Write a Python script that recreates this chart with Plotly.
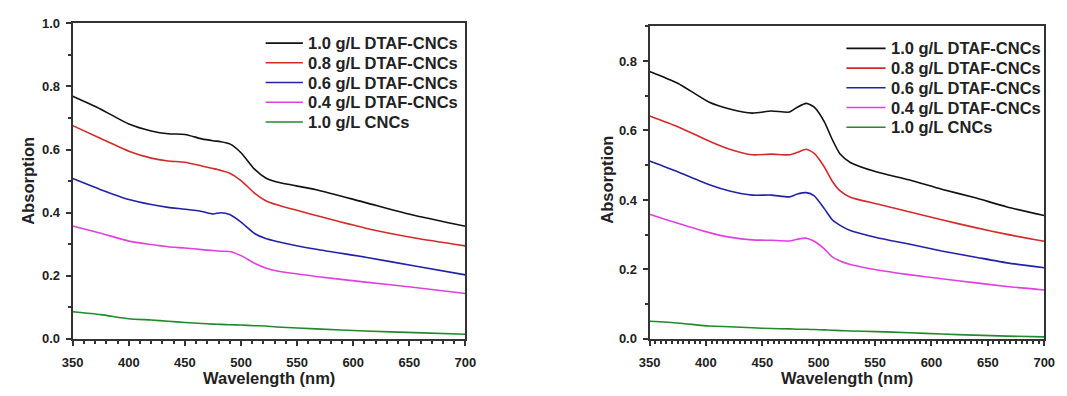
import plotly.graph_objects as go

# ---------------- data ----------------
wl_left = [350, 375, 400, 420, 435, 450, 465, 475, 482, 490, 500, 512, 522, 532, 567, 611, 655, 700]
left_10 = [0.769, 0.728, 0.681, 0.659, 0.650, 0.648, 0.634, 0.628, 0.625, 0.618, 0.590, 0.538, 0.510, 0.497, 0.473, 0.432, 0.391, 0.357]
left_08 = [0.676, 0.635, 0.595, 0.573, 0.564, 0.560, 0.548, 0.540, 0.534, 0.525, 0.502, 0.462, 0.438, 0.425, 0.391, 0.351, 0.320, 0.295]
left_06 = [0.508, 0.473, 0.442, 0.426, 0.417, 0.411, 0.404, 0.396, 0.400, 0.394, 0.370, 0.334, 0.318, 0.309, 0.284, 0.259, 0.231, 0.203]
left_04 = [0.358, 0.335, 0.310, 0.299, 0.292, 0.288, 0.283, 0.280, 0.278, 0.277, 0.264, 0.240, 0.225, 0.215, 0.198, 0.180, 0.163, 0.144]
left_cnc = [0.086, 0.077, 0.064, 0.060, 0.056, 0.052, 0.049, 0.047, 0.046, 0.045, 0.044, 0.042, 0.041, 0.038, 0.032, 0.025, 0.020, 0.015]

wl_right = [350, 375, 403, 421, 441, 458, 474, 481, 489, 496, 505, 512, 519, 528, 551, 580, 609, 638, 667, 700]
right_10 = [0.770, 0.736, 0.681, 0.662, 0.650, 0.656, 0.653, 0.667, 0.678, 0.667, 0.625, 0.574, 0.532, 0.508, 0.481, 0.458, 0.431, 0.407, 0.380, 0.355]
right_08 = [0.642, 0.611, 0.569, 0.546, 0.530, 0.532, 0.530, 0.537, 0.546, 0.534, 0.495, 0.454, 0.426, 0.408, 0.389, 0.366, 0.343, 0.321, 0.301, 0.281]
right_06 = [0.512, 0.481, 0.444, 0.426, 0.414, 0.414, 0.409, 0.417, 0.421, 0.412, 0.375, 0.343, 0.327, 0.312, 0.292, 0.273, 0.253, 0.236, 0.219, 0.205]
right_04 = [0.359, 0.333, 0.306, 0.293, 0.285, 0.284, 0.282, 0.287, 0.290, 0.281, 0.259, 0.236, 0.224, 0.214, 0.199, 0.185, 0.173, 0.162, 0.151, 0.141]
right_cnc = [0.051, 0.046, 0.037, 0.035, 0.032, 0.030, 0.029, 0.028, 0.028, 0.027, 0.026, 0.025, 0.024, 0.023, 0.021, 0.018, 0.014, 0.011, 0.008, 0.006]

series_names = ["1.0 g/L DTAF-CNCs", "0.8 g/L DTAF-CNCs", "0.6 g/L DTAF-CNCs",
                "0.4 g/L DTAF-CNCs", "1.0 g/L CNCs"]
colors = ["#111111", "#d42a2a", "#2222a8", "#e040e0", "#228a2a"]

x_ticks = [350, 400, 450, 500, 550, 600, 650, 700]
x_title = "Wavelength (nm)"
y_title = "Absorption"

W, H = 1067, 396
FONT = "Arial, Liberation Sans, Helvetica, sans-serif"

fig = go.Figure()

left_sets = [left_10, left_08, left_06, left_04, left_cnc]
right_sets = [right_10, right_08, right_06, right_04, right_cnc]

for name, c, ys in zip(series_names, colors, left_sets):
    fig.add_trace(go.Scatter(x=wl_left, y=ys, name=name, mode="lines", showlegend=False,
                             line=dict(color=c, width=1.6, shape="spline", smoothing=0.6),
                             xaxis="x", yaxis="y"))
for name, c, ys in zip(series_names, colors, right_sets):
    fig.add_trace(go.Scatter(x=wl_right, y=ys, name=name, mode="lines", showlegend=False,
                             line=dict(color=c, width=1.6, shape="spline", smoothing=0.6),
                             xaxis="x2", yaxis="y2"))

def px_x(p):
    return p / W

def px_y(p):
    return 1 - p / H

axis_common = dict(showline=True, linecolor="#333333", linewidth=2, mirror=True,
                   showgrid=False, zeroline=False, ticks="outside", ticklen=5,
                   tickwidth=1.5, tickcolor="#333333",
                   tickfont=dict(family=FONT, size=13, color="#222222", weight="bold"))

fig.update_layout(
    width=W, height=H, margin=dict(l=0, r=0, t=0, b=0),
    paper_bgcolor="white", plot_bgcolor="white",
    font=dict(family=FONT), showlegend=False,
    xaxis=dict(domain=[px_x(63), px_x(464)], range=[350, 700], tickvals=x_ticks,
               anchor="y", ticklabelstandoff=5,
               minor=dict(dtick=10, ticks="outside", ticklen=3, tickcolor="#333333"),
               **axis_common),
    yaxis=dict(domain=[px_y(345), px_y(17)], range=[0, 1.0], dtick=0.2, tickformat=".1f",
               anchor="x", ticklabelstandoff=3,
               minor=dict(dtick=0.1, ticks="outside", ticklen=3, tickcolor="#333333"),
               **axis_common),
    xaxis2=dict(domain=[px_x(652), px_x(1055)], range=[350, 700], tickvals=x_ticks,
                anchor="y2", ticklabelstandoff=5,
                minor=dict(dtick=5, ticks="outside", ticklen=3, tickcolor="#333333"),
                **axis_common),
    yaxis2=dict(domain=[px_y(345), px_y(20)], range=[0, 0.9], dtick=0.2, tickformat=".1f",
                anchor="x2", ticklabelstandoff=3,
                minor=dict(dtick=0.1, ticks="outside", ticklen=3, tickcolor="#333333"),
                **axis_common),
)

# ---------------- legends (line sample + text), one per panel ----------------
legend_font = dict(family=FONT, size=16.5, color="#222222", weight="bold")
legend_specs = [
    dict(x0=260, x1=298, tx=301, rows=[37.5, 58, 78.5, 99, 119.5]),
    dict(x0=853, x1=893, tx=896, rows=[43, 63.5, 84, 104.5, 125]),
]
for spec in legend_specs:
    for name, c, ry in zip(series_names, colors, spec["rows"]):
        fig.add_shape(type="line", xref="paper", yref="paper",
                      x0=px_x(spec["x0"]), x1=px_x(spec["x1"]), y0=px_y(ry), y1=px_y(ry),
                      line=dict(color=c, width=1.6))
        fig.add_annotation(text=name, x=px_x(spec["tx"]), y=px_y(ry), xref="paper", yref="paper",
                           showarrow=False, font=legend_font, xanchor="left", yanchor="middle")

title_font = dict(family=FONT, size=16.5, color="#222222", weight="bold")
fig.add_annotation(text=x_title, x=(px_x(63) + px_x(464)) / 2, y=px_y(386), xref="paper", yref="paper",
                   showarrow=False, font=title_font, xanchor="center", yanchor="middle")
fig.add_annotation(text=x_title, x=(px_x(652) + px_x(1055)) / 2, y=px_y(386), xref="paper", yref="paper",
                   showarrow=False, font=title_font, xanchor="center", yanchor="middle")
fig.add_annotation(text=y_title, x=px_x(17), y=px_y(181), xref="paper", yref="paper", textangle=-90,
                   showarrow=False, font=title_font, xanchor="center", yanchor="middle")
fig.add_annotation(text=y_title, x=px_x(609), y=px_y(179), xref="paper", yref="paper", textangle=-90,
                   showarrow=False, font=title_font, xanchor="center", yanchor="middle")

fig.write_html("out.html")
